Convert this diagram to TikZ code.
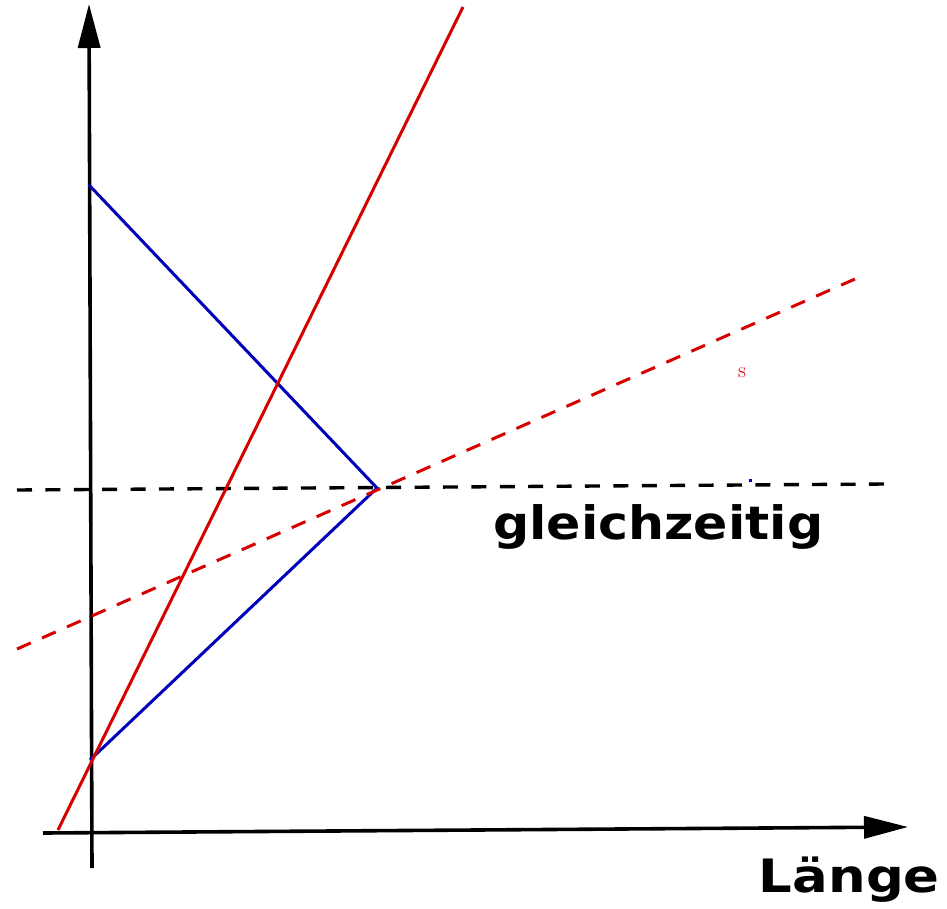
\documentclass[tikz,border=0pt]{standalone}
\usepackage{fontspec}
\setsansfont{DejaVu Sans}
\usetikzlibrary{arrows.meta}
\definecolor{lred}{RGB}{215,0,0}
\definecolor{lblue}{RGB}{0,0,185}

\begin{document}
\begin{tikzpicture}
    [x=1pt, y=-1pt,
    axis/.style={line width=3.6pt, -{Triangle[length=44pt, width=22pt]}},
    weltlinie/.style={line width=3pt},
    gestrichelt/.style={line width=3.4pt, dash pattern=on 15pt off 13.4pt},
    beschriftung/.style={font=\sffamily\bfseries\fontsize{46}{46}\selectfont, inner sep=0pt}]
    \useasboundingbox (0,0) rectangle (947,908);
        %% Achsen
    \coordinate (T0) at (92,868);
    \coordinate (T1) at (89,4);
    \coordinate (X0) at (43,833);
    \coordinate (X1) at (908,827);
    \draw[axis] (T0) -- (T1);
    \draw[axis] (X0) -- (X1);
    \node[beschriftung, xscale=1.15, anchor=base east] (L) at (940,892) {Länge};

        %% gleichzeitig
    \coordinate (G0) at (17,490);
    \coordinate (G1) at (884,484);
    \draw[gestrichelt] (G0) -- (G1);
    \node[beschriftung, xscale=1.1, anchor=base west] (G) at (493,539) {gleichzeitig};

        %% Lichtsignale
    \coordinate (A) at (89,185);
    \coordinate (E) at (377,488);
    \coordinate (B) at (90,760);
    \draw[weltlinie, lblue] (A) -- (E) -- (B);

        %% bewegtes System
    \coordinate (R0) at (58,830);
    \coordinate (R1) at (463,7);
    \draw[weltlinie, lred] (R0) -- (R1);
    \coordinate (S0) at (17,649);
    \coordinate (S1) at (855,279);
    \draw[weltlinie, lred, dash pattern=on 15pt off 12.3pt] (S0) -- (S1);
    \node[lred, font=\rmfamily\fontsize{22}{22}\selectfont, inner sep=0pt] (s) at (742,373) {s};
    \node[fill=lblue, inner sep=0pt, minimum size=3pt] (p) at (750,480) {};
\end{tikzpicture}
\end{document}
